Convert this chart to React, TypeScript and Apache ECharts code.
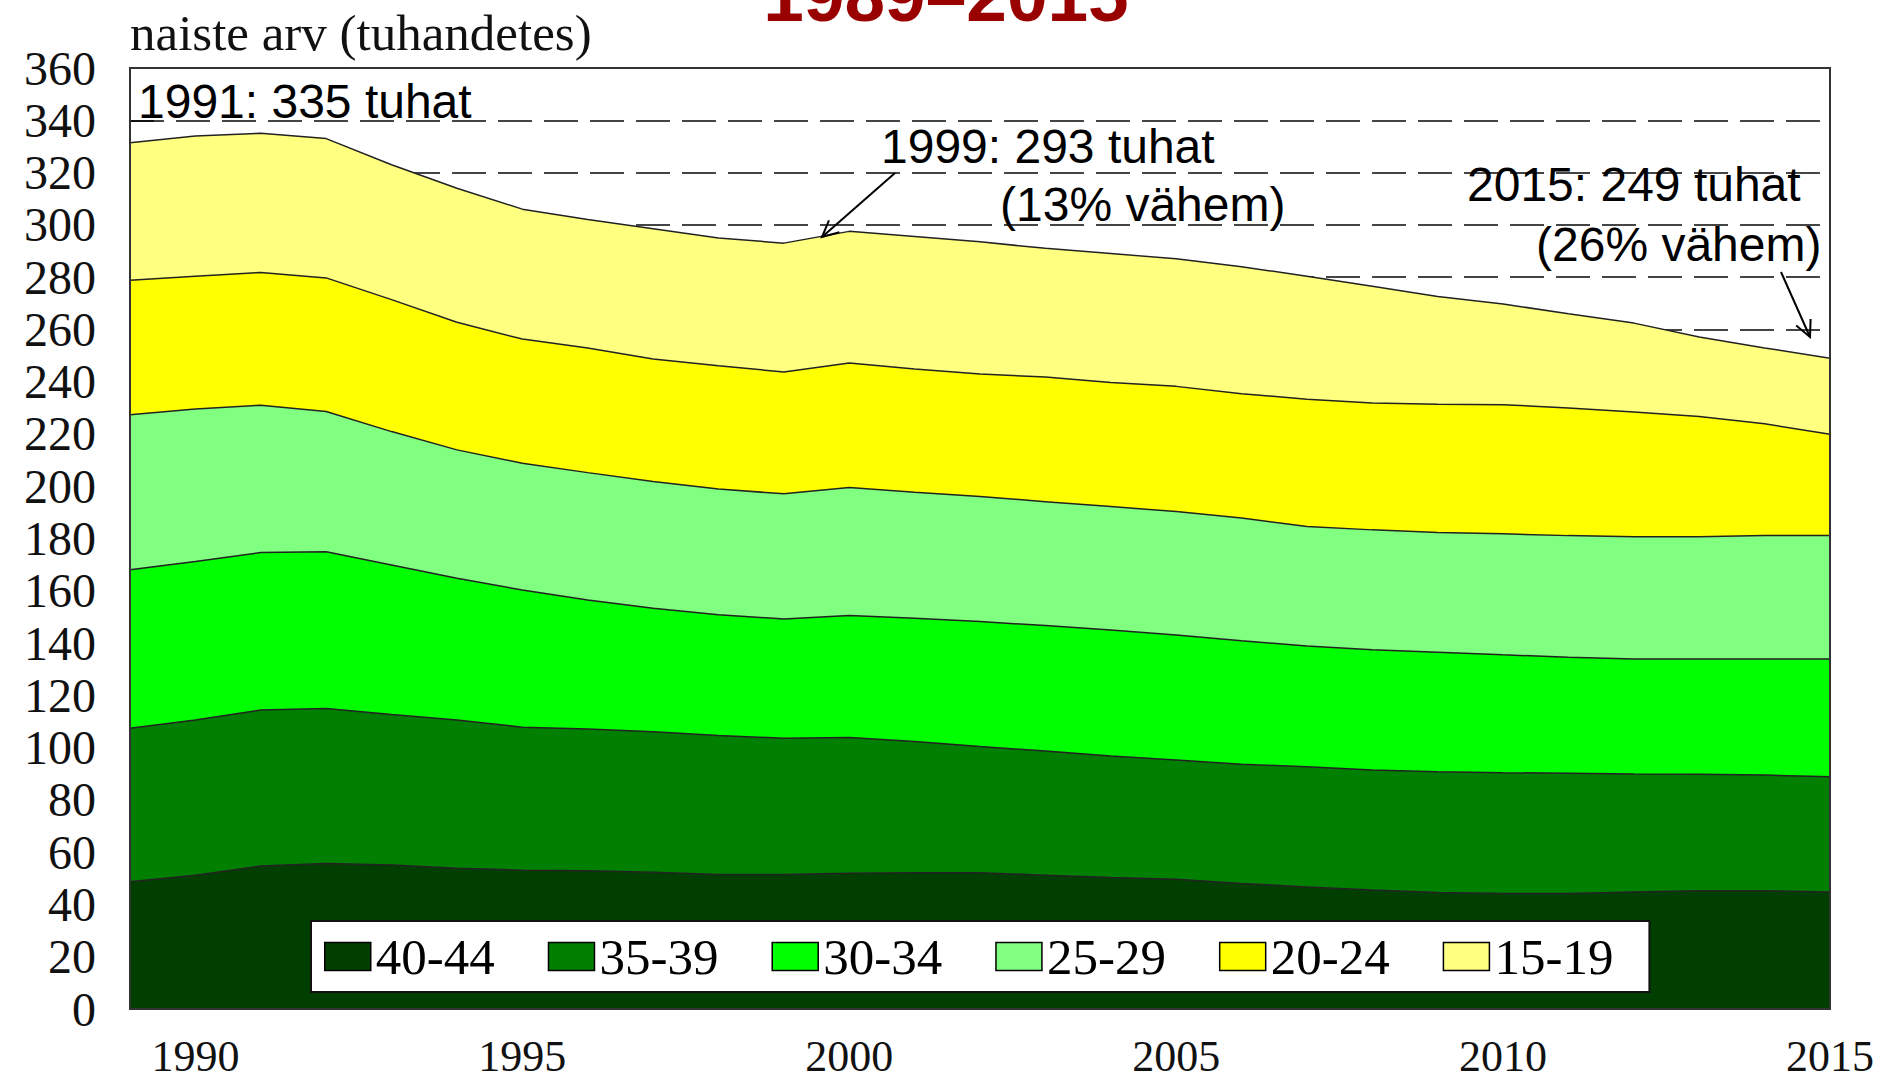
import React, { useEffect, useRef } from 'react';
import * as echarts from 'echarts';

const years = ['1989','1990','1991','1992','1993','1994','1995','1996','1997','1998','1999','2000','2001','2002','2003','2004','2005','2006','2007','2008','2009','2010','2011','2012','2013','2014','2015'];

const age40_44 = [48.7, 51.2, 54.7, 55.7, 55.1, 53.8, 53.1, 52.9, 52.3, 51.5, 51.5, 51.9, 52.1, 52.1, 51.2, 50.3, 49.6, 48.0, 46.7, 45.5, 44.6, 44.2, 44.2, 44.8, 45.2, 45.2, 44.8];
const age35_39 = [58.7, 59.4, 59.7, 59.3, 57.6, 56.8, 54.7, 54.2, 53.8, 53.1, 52.1, 52.0, 50.2, 48.3, 47.5, 46.5, 45.7, 45.6, 46.0, 45.9, 46.2, 46.2, 46.0, 45.1, 44.6, 44.3, 44.1];
const age30_34 = [60.6, 60.6, 60.2, 59.9, 57.2, 54.2, 52.5, 49.4, 47.2, 46.2, 45.6, 46.6, 47.2, 47.8, 48.0, 48.2, 47.8, 47.3, 46.2, 46.0, 45.7, 45.1, 44.4, 44.0, 44.1, 44.4, 45.0];
const age25_29 = [59.3, 58.3, 56.4, 53.7, 51.0, 49.1, 48.5, 48.7, 48.5, 48.1, 47.9, 49.0, 48.2, 47.9, 47.4, 47.2, 47.2, 46.9, 45.7, 45.9, 45.8, 46.3, 46.5, 46.8, 46.8, 47.2, 47.2];
const age20_24 = [51.5, 50.8, 50.8, 51.1, 50.5, 48.8, 47.5, 47.7, 46.9, 47.2, 46.6, 47.6, 47.1, 46.8, 47.7, 47.5, 47.9, 47.6, 48.7, 48.5, 49.1, 49.4, 48.8, 47.7, 46.0, 42.8, 38.8];
const age15_19 = [52.6, 53.7, 53.2, 53.3, 51.6, 51.3, 49.7, 49.1, 49.8, 48.9, 49.3, 50.4, 50.7, 50.6, 49.2, 49.3, 48.8, 48.6, 47.0, 44.7, 41.2, 38.5, 36.1, 34.0, 30.4, 29.0, 29.1];

const seriesNames = ['40-44', '35-39', '30-34', '25-29', '20-24', '15-19'];
const seriesData = [age40_44, age35_39, age30_34, age25_29, age20_24, age15_19];
const seriesColors = ['#003F00', '#007F00', '#00FF00', '#80FF80', '#FFFF00', '#FFFF80'];

const yTitle = 'naiste arv (tuhandetes)';
const topTitle = '1989\u20132015';
const notes = [
  { text: '1991: 335 tuhat', x: 138, y: 101 },
  { text: '1999: 293 tuhat', x: 881, y: 146 },
  { text: '(13% vähem)', x: 1000, y: 204 },
  { text: '2015: 249 tuhat', x: 1467, y: 184 },
  { text: '(26% vähem)', x: 1536, y: 244 },
];
const arrows = [
  { x1: 895, y1: 173, x2: 822, y2: 237 },
  { x1: 1781, y1: 272, x2: 1810, y2: 337 },
];

function arrowHead(a: { x1: number; y1: number; x2: number; y2: number }) {
  const dx = a.x2 - a.x1;
  const dy = a.y2 - a.y1;
  const l = Math.sqrt(dx * dx + dy * dy);
  const ux = dx / l;
  const uy = dy / l;
  const len = 18;
  const ang = (26 * Math.PI) / 180;
  const rot = (s: number) => {
    const c = Math.cos(s * ang);
    const si = Math.sin(s * ang);
    const rx = ux * c - uy * si;
    const ry = ux * si + uy * c;
    return [a.x2 - rx * len, a.y2 - ry * len];
  };
  return [rot(1), [a.x2, a.y2], rot(-1)];
}

export default function App() {
  const ref = useRef<HTMLDivElement>(null);
  useEffect(() => {
    if (!ref.current) return;
    const chart = echarts.init(ref.current, null, { renderer: 'svg' });
    const serif = '"Liberation Serif", "Times New Roman", serif';
    const sans = '"Liberation Sans", Arial, sans-serif';
    const graphics: any[] = [
      {
        type: 'rect',
        z: 100,
        shape: { x: 130, y: 68, width: 1700, height: 941 },
        style: { fill: 'none', stroke: '#333', lineWidth: 2 },
        silent: true,
      },
      {
        type: 'text',
        z: 100,
        x: 130,
        y: 33,
        style: { text: yTitle, fontFamily: serif, fontSize: 51, fill: '#111', align: 'left', verticalAlign: 'middle' },
      },
      {
        type: 'text',
        z: 100,
        x: 946,
        y: -5,
        style: { text: topTitle, fontFamily: sans, fontWeight: 'bold', fontSize: 73, fill: '#990000', align: 'center', verticalAlign: 'middle' },
      },
    ];
    notes.forEach((n) => {
      graphics.push({
        type: 'text',
        z: 101,
        x: n.x,
        y: n.y,
        style: { text: n.text, fontFamily: sans, fontSize: 48, fill: '#000', align: 'left', verticalAlign: 'middle' },
      });
    });
    arrows.forEach((a) => {
      graphics.push({
        type: 'line',
        z: 101,
        shape: { x1: a.x1, y1: a.y1, x2: a.x2, y2: a.y2 },
        style: { stroke: '#000', lineWidth: 2 },
      });
      graphics.push({
        type: 'polyline',
        z: 101,
        shape: { points: arrowHead(a) },
        style: { stroke: '#000', lineWidth: 2, fill: 'none' },
      });
    });

    chart.setOption({
      animation: false,
      backgroundColor: '#fff',
      grid: { left: 130, right: 53, top: 68, bottom: 72, containLabel: false },
      legend: {
        left: 311,
        top: 921,
        orient: 'horizontal',
        backgroundColor: '#fff',
        borderColor: '#111',
        borderWidth: 2,
        padding: [10, 36, 10, 13],
        itemWidth: 46,
        itemHeight: 28,
        itemGap: 53,
        icon: 'rect',
        selectedMode: false,
        textStyle: { fontFamily: serif, fontSize: 51, color: '#000' },
        data: seriesNames.map((n, i) => ({
          name: n,
          itemStyle: { color: seriesColors[i], borderColor: '#000', borderWidth: 1.5 },
        })),
      },
      xAxis: {
        type: 'category',
        data: years,
        boundaryGap: false,
        axisLine: { show: true, lineStyle: { color: '#333', width: 2 } },
        axisTick: { show: true, inside: true, length: 20, interval: 0, lineStyle: { color: '#111', width: 2 } },
        axisLabel: {
          interval: (i: number, v: string) => Number(v) % 5 === 0,
          fontFamily: serif,
          fontSize: 44,
          color: '#111',
          margin: 25,
        },
        splitLine: { show: false },
      },
      yAxis: {
        type: 'value',
        min: 0,
        max: 360,
        interval: 20,
        axisLine: { show: true, lineStyle: { color: '#333', width: 2 } },
        axisTick: { show: true, inside: true, length: 24, lineStyle: { color: '#111', width: 2 } },
        axisLabel: { fontFamily: serif, fontSize: 48, color: '#111', margin: 34 },
        splitLine: { show: true, lineStyle: { color: '#444', width: 2, type: [34, 12] } },
      },
      series: seriesNames.map((n, i) => ({
        name: n,
        type: 'line',
        stack: 'total',
        data: seriesData[i],
        symbol: 'none',
        showSymbol: false,
        color: seriesColors[i],
        itemStyle: { color: seriesColors[i] },
        lineStyle: { color: '#222', width: 1.5 },
        areaStyle: { color: seriesColors[i], opacity: 1 },
        emphasis: { disabled: true },
        z: 2 + (seriesNames.length - i) * 0.1,
      })),
      graphic: graphics,
    });
    return () => chart.dispose();
  }, []);
  return <div ref={ref} style={{ position: 'absolute', left: 0, top: 0, width: 1883, height: 1081 }} />;
}
